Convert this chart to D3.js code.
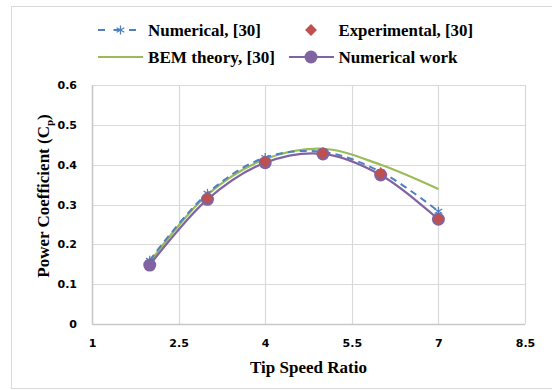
<!DOCTYPE html>
<html><head><meta charset="utf-8">
<script src="https://cdn.jsdelivr.net/npm/d3@7"></script>
<style>body{margin:0;background:#fff}svg{display:block}</style>
</head><body><svg id="c" width="552" height="390"></svg>
<script>
const xTicks = [1, 2.5, 4, 5.5, 7, 8.5];
const yTicks = [0, 0.1, 0.2, 0.3, 0.4, 0.5, 0.6];
const tsrAll = [2, 3, 4, 5, 6, 7];
const numRef = [0.160, 0.328, 0.418, 0.432, 0.382, 0.283];
const bemRef = [0.155, 0.325, 0.414, 0.440, 0.400, 0.339];
const numWork = [0.148, 0.313, 0.405, 0.427, 0.374, 0.263];
const tsrExp = [3, 4, 5, 6, 7];
const expRef = [0.317, 0.408, 0.428, 0.378, 0.264];
const legendLabels = ["Numerical, [30]", "Experimental, [30]", "BEM theory, [30]", "Numerical work"];

const svg = d3.select("#c");
svg.append("rect").attr("x", 11.5).attr("y", 6.5).attr("width", 560).attr("height", 382)
  .attr("fill", "#fff").attr("stroke", "#d9d9d9").attr("stroke-width", 1);

const x = d3.scaleLinear().domain([1, 8.5]).range([92, 525]);
const y = d3.scaleLinear().domain([0, 0.6]).range([324, 85]);
const g = svg.append("g");

g.selectAll(".vg").data(xTicks).join("line")
  .attr("x1", d => Math.round(x(d)) + 0.5).attr("x2", d => Math.round(x(d)) + 0.5)
  .attr("y1", y(0.6)).attr("y2", y(0)).attr("stroke", "#d9d9d9").attr("stroke-width", 1.2);
g.selectAll(".hg").data(yTicks).join("line")
  .attr("y1", d => Math.round(y(d)) + 0.5).attr("y2", d => Math.round(y(d)) + 0.5)
  .attr("x1", x(1)).attr("x2", x(8.5)).attr("stroke", "#d9d9d9").attr("stroke-width", 1.2);

const xAxis = g.append("g").attr("transform", `translate(0,${y(0)})`)
  .call(d3.axisBottom(x).tickValues(xTicks).tickSize(0).tickPadding(15).tickFormat(d3.format("")));
const yAxis = g.append("g").attr("transform", `translate(${x(1)},0)`)
  .call(d3.axisLeft(y).tickValues(yTicks).tickSize(0).tickPadding(15).tickFormat(d => d === 0 ? "0" : d3.format(".1f")(d)));
[xAxis, yAxis].forEach(a => {
  a.select(".domain").remove();
  a.selectAll("text").attr("font-family", "'DejaVu Sans', Verdana, sans-serif")
    .attr("font-weight", "bold").attr("font-size", 11).attr("fill", "#000");
});
g.append("line").attr("x1", x(1)).attr("x2", x(8.5)).attr("y1", y(0)+0.5).attr("y2", y(0)+0.5).attr("stroke", "#c8c8c8").attr("stroke-width", 1.5);
g.append("line").attr("x1", x(1)+0.5).attr("x2", x(1)+0.5).attr("y1", y(0.6)).attr("y2", y(0)).attr("stroke", "#c8c8c8").attr("stroke-width", 1.5);

const sf = "'Liberation Serif', 'Times New Roman', serif";
svg.append("text").attr("x", (x(1) + x(8.5)) / 2).attr("y", 373).attr("text-anchor", "middle")
  .attr("font-family", sf).attr("font-weight", "bold").attr("font-size", 17)
  .text("Tip Speed Ratio");
const yt = svg.append("text").attr("transform", `translate(49,196) rotate(-90)`).attr("text-anchor", "middle")
  .attr("font-family", sf).attr("font-weight", "bold").attr("font-size", 17);
yt.append("tspan").text("Power Coefficient (C");
yt.append("tspan").attr("font-size", 11).attr("dy", 4).text("p");
yt.append("tspan").attr("dy", -4).text(")");

const curve = d3.curveCatmullRom.alpha(0.5);
const line = (xs, ys) => d3.line().curve(curve).x((d, i) => x(xs[i])).y(d => y(d))(ys);

const blue = "#4f81bd", red = "#c0504d", green = "#9bbb59", purple = "#8064a2";

g.append("path").attr("d", line(tsrAll, bemRef)).attr("fill", "none").attr("stroke", green).attr("stroke-width", 2.2);
g.append("path").attr("d", line(tsrAll, numRef)).attr("fill", "none").attr("stroke", blue).attr("stroke-width", 2).attr("stroke-dasharray", "7,5");
function star(sel, cx, cy) {
  const r = 4.5;
  const s = sel.append("g").attr("transform", `translate(${cx},${cy})`).attr("stroke", blue).attr("stroke-width", 1.3);
  s.append("line").attr("x1", 0).attr("x2", 0).attr("y1", -r).attr("y2", r);
  s.append("line").attr("x1", -r * 0.85).attr("x2", r * 0.85).attr("y1", -r * 0.5).attr("y2", r * 0.5);
  s.append("line").attr("x1", -r * 0.85).attr("x2", r * 0.85).attr("y1", r * 0.5).attr("y2", -r * 0.5);
}
tsrAll.forEach((t, i) => star(g, x(t), y(numRef[i])));
g.append("path").attr("d", line(tsrAll, numWork)).attr("fill", "none").attr("stroke", purple).attr("stroke-width", 2.2);
g.selectAll(".pc").data(numWork).join("circle").attr("cx", (d, i) => x(tsrAll[i])).attr("cy", d => y(d))
  .attr("r", 6.5).attr("fill", purple);
const diamond = d3.symbol().type(d3.symbolDiamond2).size(90);
g.selectAll(".ex").data(expRef).join("path").attr("d", diamond)
  .attr("transform", (d, i) => `translate(${x(tsrExp[i])},${y(d)})`).attr("fill", red);

const L = svg.append("g");
function ltext(tx, ty, s, w) {
  L.append("text").attr("x", tx).attr("y", ty).attr("dy", "0.35em").attr("font-family", sf)
    .attr("font-weight", "bold").attr("font-size", 16.5).attr("textLength", w).attr("lengthAdjust", "spacingAndGlyphs").text(s);
}
L.append("line").attr("x1", 98).attr("x2", 143).attr("y1", 30).attr("y2", 30).attr("stroke", blue).attr("stroke-width", 2).attr("stroke-dasharray", "7,8.5");
star(L, 120.5, 30);
ltext(148, 30, legendLabels[0], 113);
L.append("path").attr("d", diamond).attr("transform", "translate(311,30)").attr("fill", red);
ltext(338.5, 30, legendLabels[1], 134.5);
L.append("line").attr("x1", 98).attr("x2", 143).attr("y1", 57).attr("y2", 57).attr("stroke", green).attr("stroke-width", 2.2);
ltext(148, 57, legendLabels[2], 127);
L.append("line").attr("x1", 289).attr("x2", 334).attr("y1", 57).attr("y2", 57).attr("stroke", purple).attr("stroke-width", 2.2);
L.append("circle").attr("cx", 311).attr("cy", 57).attr("r", 6.5).attr("fill", purple);
ltext(338.5, 57, legendLabels[3], 119);
</script></body></html>
